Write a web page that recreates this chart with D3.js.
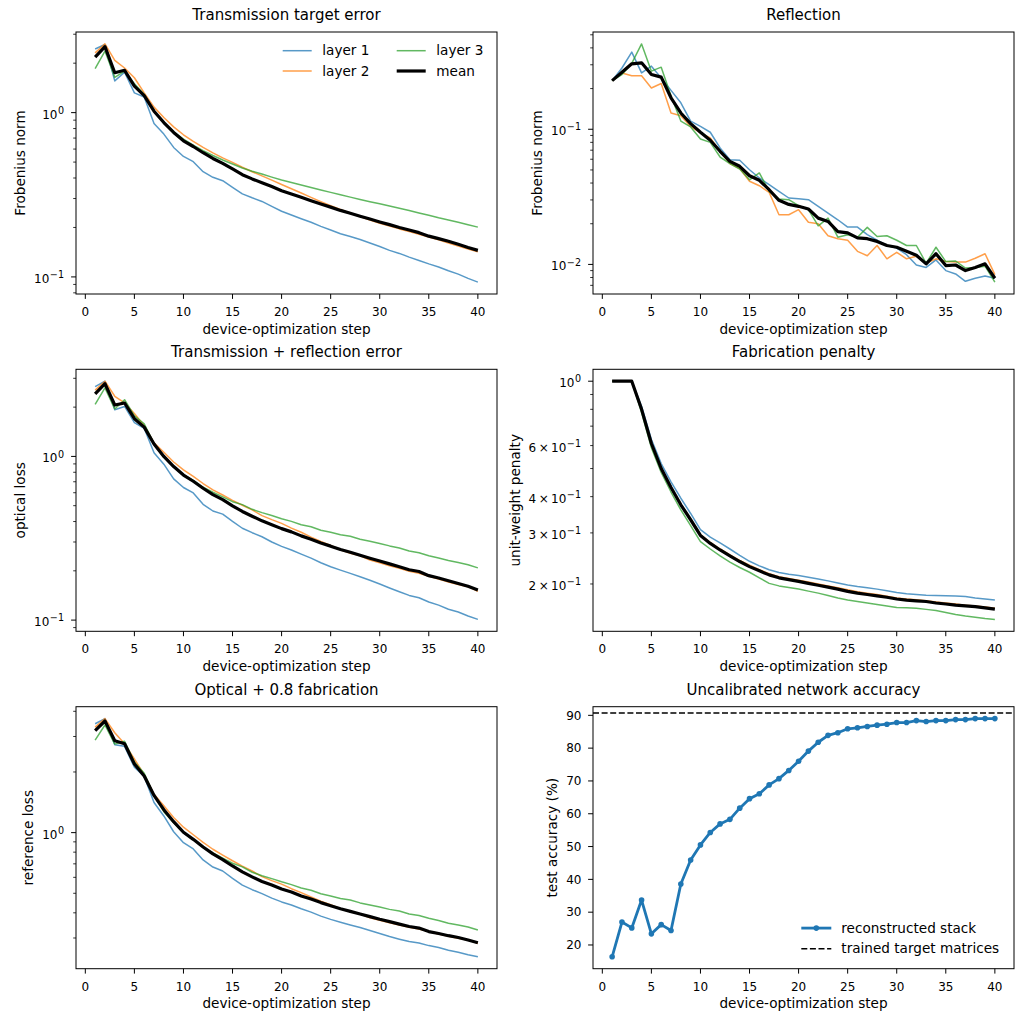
<!DOCTYPE html>
<html>
<head>
<meta charset="utf-8">
<script src="https://cdn.jsdelivr.net/npm/d3@7"></script>
<style>
  body { margin: 0; background: #fff; }
  svg { font-family: 'DejaVu Sans', sans-serif; }
</style>
</head>
<body>
<svg id="fig" width="1024" height="1024"></svg>
<script>
// device-optimization steps
const steps = d3.range(1, 41)

// transmission target error (Frobenius norm)
const transLayer1 = [2.44, 2.60, 1.56, 1.76, 1.32, 1.245, 0.858, 0.740, 0.614, 0.541, 0.503, 0.437, 0.404, 0.385, 0.351, 0.320, 0.303, 0.288, 0.269, 0.251, 0.238, 0.226, 0.215, 0.203, 0.193, 0.183, 0.176, 0.169, 0.161, 0.153, 0.145, 0.139, 0.132, 0.126, 0.120, 0.115, 0.109, 0.104, 0.098, 0.093]
const transLayer2 = [2.31, 2.62, 2.08, 1.87, 1.63, 1.32, 1.08, 0.933, 0.819, 0.733, 0.668, 0.614, 0.569, 0.530, 0.498, 0.465, 0.437, 0.412, 0.388, 0.365, 0.344, 0.324, 0.305, 0.287, 0.271, 0.257, 0.244, 0.233, 0.222, 0.212, 0.204, 0.196, 0.189, 0.182, 0.175, 0.168, 0.161, 0.154, 0.148, 0.142]
const transLayer3 = [1.85, 2.37, 1.64, 1.79, 1.50, 1.29, 1.02, 0.87, 0.764, 0.690, 0.634, 0.586, 0.548, 0.515, 0.487, 0.460, 0.440, 0.423, 0.405, 0.389, 0.376, 0.363, 0.350, 0.338, 0.327, 0.316, 0.306, 0.296, 0.287, 0.279, 0.270, 0.262, 0.254, 0.245, 0.237, 0.229, 0.222, 0.215, 0.208, 0.201]
const transMean = [2.18, 2.52, 1.75, 1.81, 1.45, 1.27, 1.02, 0.87, 0.757, 0.674, 0.622, 0.570, 0.526, 0.491, 0.454, 0.419, 0.395, 0.374, 0.355, 0.335, 0.320, 0.305, 0.291, 0.278, 0.266, 0.254, 0.244, 0.234, 0.225, 0.216, 0.208, 0.200, 0.193, 0.186, 0.177, 0.171, 0.165, 0.158, 0.151, 0.145]

// reflection (Frobenius norm)
const reflLayer1 = [0.229, 0.284, 0.372, 0.261, 0.293, 0.240, 0.194, 0.157, 0.115, 0.105, 0.095, 0.0727, 0.0595, 0.0589, 0.0502, 0.0436, 0.0389, 0.0347, 0.031, 0.0306, 0.0301, 0.0269, 0.0240, 0.0214, 0.0189, 0.0189, 0.0166, 0.0151, 0.0138, 0.0132, 0.0118, 0.0099, 0.0095, 0.0108, 0.0090, 0.0085, 0.0075, 0.0079, 0.0082, 0.0079]
const reflLayer2 = [0.229, 0.261, 0.249, 0.249, 0.202, 0.218, 0.132, 0.126, 0.105, 0.0939, 0.0862, 0.0687, 0.0558, 0.0512, 0.0412, 0.0382, 0.0341, 0.0233, 0.0233, 0.0254, 0.0205, 0.0200, 0.0163, 0.0155, 0.0151, 0.0125, 0.0116, 0.0138, 0.0110, 0.0123, 0.0110, 0.0115, 0.0102, 0.0110, 0.0105, 0.0104, 0.0104, 0.0111, 0.0120, 0.0084]
const reflLayer3 = [0.229, 0.254, 0.307, 0.428, 0.269, 0.288, 0.176, 0.115, 0.104, 0.0847, 0.080, 0.0623, 0.0558, 0.0508, 0.0423, 0.0475, 0.0347, 0.0305, 0.0301, 0.0272, 0.0254, 0.0193, 0.0220, 0.0159, 0.0166, 0.0159, 0.0188, 0.0161, 0.0163, 0.0151, 0.0138, 0.0138, 0.0102, 0.0134, 0.0105, 0.0106, 0.0094, 0.0095, 0.0097, 0.0074]
const reflMean = [0.229, 0.264, 0.305, 0.310, 0.254, 0.243, 0.171, 0.132, 0.110, 0.095, 0.0829, 0.0687, 0.0579, 0.0532, 0.0453, 0.0419, 0.0357, 0.0298, 0.0278, 0.0269, 0.0257, 0.0220, 0.0208, 0.0175, 0.0171, 0.0157, 0.0155, 0.0148, 0.0138, 0.0134, 0.0125, 0.0117, 0.0101, 0.0120, 0.0098, 0.0099, 0.0090, 0.0095, 0.0101, 0.0079]

// transmission + reflection error (optical loss)
const opticalLayer1 = [2.67, 2.88, 1.93, 2.02, 1.61, 1.485, 1.052, 0.897, 0.729, 0.646, 0.598, 0.510, 0.464, 0.444, 0.401, 0.364, 0.342, 0.323, 0.300, 0.282, 0.268, 0.253, 0.239, 0.224, 0.212, 0.202, 0.193, 0.184, 0.175, 0.166, 0.157, 0.149, 0.1415, 0.137, 0.129, 0.1235, 0.1165, 0.112, 0.106, 0.101]
const opticalLayer2 = [2.54, 2.88, 2.33, 2.12, 1.83, 1.54, 1.21, 1.06, 0.924, 0.827, 0.754, 0.683, 0.625, 0.581, 0.539, 0.503, 0.471, 0.435, 0.411, 0.390, 0.3645, 0.344, 0.321, 0.302, 0.286, 0.269, 0.256, 0.247, 0.233, 0.224, 0.215, 0.207, 0.199, 0.193, 0.185, 0.178, 0.171, 0.165, 0.160, 0.150]
const opticalLayer3 = [2.08, 2.62, 1.95, 2.22, 1.77, 1.58, 1.196, 0.985, 0.868, 0.775, 0.714, 0.648, 0.604, 0.566, 0.529, 0.5075, 0.475, 0.4535, 0.435, 0.416, 0.401, 0.382, 0.372, 0.354, 0.3436, 0.332, 0.325, 0.312, 0.303, 0.294, 0.284, 0.276, 0.264, 0.258, 0.2475, 0.2396, 0.2314, 0.2245, 0.2177, 0.2084]
const opticalMean = [2.41, 2.78, 2.06, 2.12, 1.70, 1.51, 1.19, 1.00, 0.867, 0.769, 0.705, 0.639, 0.584, 0.544, 0.499, 0.461, 0.431, 0.404, 0.383, 0.362, 0.346, 0.327, 0.312, 0.2955, 0.283, 0.2697, 0.2595, 0.2488, 0.2388, 0.2294, 0.2205, 0.2117, 0.2031, 0.198, 0.1868, 0.1809, 0.174, 0.1675, 0.1611, 0.1529]

// fabrication penalty (unit weight)
const fabLayer1 = [1, 1, 1, 0.82, 0.63, 0.52, 0.45, 0.395, 0.35, 0.308, 0.290, 0.277, 0.264, 0.251, 0.2395, 0.231, 0.224, 0.219, 0.216, 0.2138, 0.211, 0.208, 0.205, 0.2015, 0.1984, 0.196, 0.194, 0.192, 0.1895, 0.187, 0.185, 0.184, 0.183, 0.1825, 0.1822, 0.1818, 0.181, 0.179, 0.1775, 0.176]
const fabLayer2 = [1, 1, 1, 0.80, 0.61, 0.50, 0.43, 0.376, 0.334, 0.296, 0.278, 0.264, 0.252, 0.241, 0.232, 0.224, 0.217, 0.212, 0.209, 0.206, 0.203, 0.200, 0.197, 0.194, 0.191, 0.188, 0.186, 0.184, 0.1815, 0.179, 0.1775, 0.1765, 0.175, 0.1735, 0.172, 0.1705, 0.169, 0.168, 0.1665, 0.165]
const fabLayer3 = [1, 1, 1, 0.78, 0.59, 0.485, 0.415, 0.36, 0.318, 0.280, 0.264, 0.250, 0.238, 0.228, 0.2195, 0.210, 0.201, 0.197, 0.1945, 0.1922, 0.189, 0.186, 0.1825, 0.179, 0.176, 0.174, 0.172, 0.170, 0.168, 0.166, 0.1655, 0.165, 0.1635, 0.162, 0.1595, 0.157, 0.155, 0.1535, 0.152, 0.151]
const fabMean = [1, 1, 1, 0.80, 0.61, 0.50, 0.43, 0.375, 0.333, 0.294, 0.276, 0.262, 0.250, 0.239, 0.2296, 0.222, 0.215, 0.210, 0.207, 0.2042, 0.201, 0.198, 0.195, 0.192, 0.1886, 0.186, 0.184, 0.182, 0.180, 0.1775, 0.176, 0.175, 0.174, 0.172, 0.1706, 0.169, 0.168, 0.167, 0.1655, 0.1638]

// optical + 0.8 fabrication (reference loss)
const refLayer1 = [3.47, 3.68, 2.73, 2.68, 2.11, 1.90, 1.41, 1.21, 1.01, 0.892, 0.830, 0.732, 0.675, 0.645, 0.593, 0.549, 0.521, 0.498, 0.473, 0.453, 0.437, 0.419, 0.403, 0.385, 0.371, 0.359, 0.348, 0.338, 0.327, 0.316, 0.305, 0.296, 0.288, 0.283, 0.275, 0.269, 0.261, 0.255, 0.248, 0.242]
const refLayer2 = [3.34, 3.68, 3.13, 2.76, 2.32, 1.94, 1.55, 1.36, 1.19, 1.064, 0.976, 0.894, 0.827, 0.774, 0.725, 0.682, 0.645, 0.605, 0.578, 0.555, 0.527, 0.504, 0.479, 0.457, 0.439, 0.419, 0.405, 0.394, 0.378, 0.367, 0.357, 0.348, 0.339, 0.332, 0.323, 0.314, 0.306, 0.299, 0.293, 0.282]
const refLayer3 = [2.88, 3.42, 2.75, 2.84, 2.24, 1.97, 1.53, 1.27, 1.12, 1.00, 0.925, 0.848, 0.794, 0.748, 0.705, 0.676, 0.636, 0.611, 0.591, 0.570, 0.552, 0.531, 0.518, 0.497, 0.485, 0.471, 0.463, 0.448, 0.437, 0.427, 0.416, 0.408, 0.395, 0.388, 0.376, 0.366, 0.355, 0.348, 0.340, 0.329]
const refMean = [3.21, 3.58, 2.86, 2.76, 2.19, 1.91, 1.53, 1.30, 1.133, 1.004, 0.926, 0.849, 0.784, 0.735, 0.683, 0.639, 0.603, 0.572, 0.549, 0.525, 0.507, 0.485, 0.468, 0.4495, 0.434, 0.4187, 0.4065, 0.3948, 0.3828, 0.3714, 0.3615, 0.3517, 0.3421, 0.336, 0.3228, 0.3159, 0.308, 0.3015, 0.2931, 0.2839]

// uncalibrated network accuracy (%)
const accuracy = [16.4, 27.0, 25.2, 33.7, 23.4, 26.2, 24.4, 38.6, 45.9, 50.5, 54.3, 56.9, 58.3, 61.7, 64.6, 66.1, 68.8, 70.7, 73.2, 76.0, 79.1, 81.8, 83.9, 84.7, 85.9, 86.2, 86.6, 87.0, 87.3, 87.8, 87.8, 88.4, 88.1, 88.4, 88.4, 88.7, 88.7, 89.0, 89.0, 89.0]
const targetAccuracy = 90.7

const layerNames = ['layer 1', 'layer 2', 'layer 3', 'mean']
const layerColors = ['#1f77b4', '#ff7f0e', '#2ca02c', '#000000']
const accuracyNames = ['reconstructed stack', 'trained target matrices']

const W = 421
const H = 262
const TICK_FS = 12
const LABEL_FS = 13.6
const TITLE_FS = 15
const LEGEND_FS = 13.6

const svg = d3.select('#fig')

const x = d3.scaleLinear()
  .domain([1 - 0.05 * 39, 40 + 0.05 * 39])
  .range([0, W])

const styleFor = i => i === 3
  ? { color: '#000', width: 3.2, opacity: 1 }
  : { color: layerColors[i], width: 1.5, opacity: 0.75 }

const logDomain = series => {
  const all = series.flat()
  const lo = Math.log10(d3.min(all))
  const hi = Math.log10(d3.max(all))
  const pad = (hi - lo) * 0.05
  return [Math.pow(10, lo - pad), Math.pow(10, hi + pad)]
}

const supLabel = (sel, mant, exp) => {
  const e = exp < 0 ? '\u2212' + Math.abs(exp) : String(exp)
  sel.append('tspan').text(mant === 1 ? '10' : `${mant}\u2009\u00d7\u200910`)
  sel.append('tspan').attr('dx', '0.05em').attr('dy', '-0.5em').attr('font-size', '0.8em').text(e)
}

const frameAndTitle = (g, p) => {
  g.append('rect')
    .attr('width', W).attr('height', H)
    .attr('fill', 'none').attr('stroke', '#000').attr('stroke-width', 1)

  g.append('text')
    .attr('x', W / 2).attr('y', -12)
    .attr('text-anchor', 'middle')
    .attr('font-size', TITLE_FS)
    .text(p.title)
}

const xAxis = g => {
  const ax = g.append('g').attr('transform', `translate(0, ${H})`)
  const ticks = x.ticks(10)
  ax.selectAll('line').data(ticks).enter().append('line')
    .attr('x1', d => x(d)).attr('x2', d => x(d))
    .attr('y1', 0).attr('y2', 4.9)
    .attr('stroke', '#000').attr('stroke-width', 1)
  ax.selectAll('text').data(ticks).enter().append('text')
    .attr('x', d => x(d)).attr('y', 22)
    .attr('text-anchor', 'middle')
    .attr('font-size', TICK_FS)
    .text(d => d)
  g.append('text')
    .attr('x', W / 2).attr('y', H + 39.5)
    .attr('text-anchor', 'middle')
    .attr('font-size', LABEL_FS)
    .text('device-optimization step')
}

const yLabel = (g, tickG, text) => {
  const bb = tickG.node().getBBox()
  const right = bb.x - 5.6
  g.append('text')
    .attr('transform', `translate(${right - 0.24 * LABEL_FS}, ${H / 2}) rotate(-90)`)
    .attr('text-anchor', 'middle')
    .attr('font-size', LABEL_FS)
    .text(text)
}

const logAxis = (g, y, labelText) => {
  const [lo, hi] = y.domain()
  const decades = Math.log10(hi / lo)
  const ticks = []
  for (let e = Math.floor(Math.log10(lo)); e <= Math.ceil(Math.log10(hi)); e++) {
    for (let m = 1; m <= 9; m++) {
      const v = m * Math.pow(10, e)
      if (v >= lo && v <= hi) ticks.push({ v, m, e })
    }
  }
  const showMinor = decades <= 1
  const ax = g.append('g')
  ax.selectAll('line').data(ticks).enter().append('line')
    .attr('x1', d => d.m === 1 ? -4.9 : -2.8).attr('x2', 0)
    .attr('y1', d => y(d.v)).attr('y2', d => y(d.v))
    .attr('stroke', '#000').attr('stroke-width', d => d.m === 1 ? 1 : 0.8)
  const labels = ticks.filter(d => d.m === 1 || (showMinor && [2, 3, 4, 6].includes(d.m)))
  const lg = ax.append('g')
  lg.selectAll('text').data(labels).enter().append('text')
    .attr('x', -12).attr('y', d => y(d.v)).attr('dy', '0.5em')
    .attr('text-anchor', 'end')
    .attr('font-size', TICK_FS)
    .each(function (d) { supLabel(d3.select(this), d.m, d.e) })
  yLabel(g, lg, labelText)
}

const lossPanels = [
  { title: 'Transmission target error', ylabel: 'Frobenius norm', left: 76, top: 32,
    series: [transLayer1, transLayer2, transLayer3, transMean], legend: true },
  { title: 'Reflection', ylabel: 'Frobenius norm', left: 593, top: 32,
    series: [reflLayer1, reflLayer2, reflLayer3, reflMean] },
  { title: 'Transmission + reflection error', ylabel: 'optical loss', left: 76, top: 369.3,
    series: [opticalLayer1, opticalLayer2, opticalLayer3, opticalMean] },
  { title: 'Fabrication penalty', ylabel: 'unit-weight penalty', left: 593, top: 369.3,
    series: [fabLayer1, fabLayer2, fabLayer3, fabMean] },
  { title: 'Optical + 0.8 fabrication', ylabel: 'reference loss', left: 76, top: 706.7,
    series: [refLayer1, refLayer2, refLayer3, refMean] }
]

lossPanels.forEach(p => {
  const g = svg.append('g').attr('transform', `translate(${p.left}, ${p.top})`)
  const y = d3.scaleLog().domain(logDomain(p.series)).range([H, 0])
  const line = d3.line().x((d, i) => x(steps[i])).y(d => y(d))

  g.selectAll('path.series').data(p.series).enter().append('path')
    .attr('class', 'series')
    .attr('d', d => line(d))
    .attr('fill', 'none')
    .attr('stroke', (d, i) => styleFor(i).color)
    .attr('stroke-width', (d, i) => styleFor(i).width)
    .attr('stroke-opacity', (d, i) => styleFor(i).opacity)
    .attr('stroke-linejoin', 'round')

  frameAndTitle(g, p)
  xAxis(g)
  logAxis(g, y, p.ylabel)

  if (p.legend) {
    const lg = g.append('g').attr('transform', `translate(${W - 214.3}, 18.7)`)
    const items = lg.selectAll('g').data(layerNames).enter().append('g')
      .attr('transform', (d, i) => `translate(${Math.floor(i / 2) * 114}, ${(i % 2) * 20.3})`)
    items.append('line')
      .attr('x1', 0).attr('x2', 29)
      .attr('stroke', (d, i) => styleFor(i).color)
      .attr('stroke-width', (d, i) => styleFor(i).width)
      .attr('stroke-opacity', (d, i) => styleFor(i).opacity)
    items.append('text')
      .attr('x', 39.6).attr('dy', '0.35em')
      .attr('font-size', LEGEND_FS)
      .text(d => d)
  }
})

// accuracy panel
{
  const p = { title: 'Uncalibrated network accuracy', left: 593, top: 706.7 }
  const g = svg.append('g').attr('transform', `translate(${p.left}, ${p.top})`)
  const [lo, hi] = d3.extent(accuracy)
  const y = d3.scaleLinear()
    .domain([lo - 0.05 * (hi - lo), hi + 0.05 * (hi - lo)])
    .range([H, 0])
  const line = d3.line().x((d, i) => x(steps[i])).y(d => y(d))

  g.append('line')
    .attr('x1', 0).attr('x2', W)
    .attr('y1', y(targetAccuracy)).attr('y2', y(targetAccuracy))
    .attr('stroke', '#000').attr('stroke-width', 1.6)
    .attr('stroke-dasharray', '6,2.6')

  g.append('path')
    .attr('d', line(accuracy))
    .attr('fill', 'none')
    .attr('stroke', '#1f77b4')
    .attr('stroke-width', 2.8)
    .attr('stroke-linejoin', 'round')

  g.selectAll('circle').data(accuracy).enter().append('circle')
    .attr('cx', (d, i) => x(steps[i]))
    .attr('cy', d => y(d))
    .attr('r', 2.8)
    .attr('fill', '#1f77b4')

  frameAndTitle(g, p)
  xAxis(g)

  const ticks = d3.range(20, 91, 10)
  const ax = g.append('g')
  ax.selectAll('line').data(ticks).enter().append('line')
    .attr('x1', -4.9).attr('x2', 0)
    .attr('y1', d => y(d)).attr('y2', d => y(d))
    .attr('stroke', '#000')
  const tl = ax.append('g')
  tl.selectAll('text').data(ticks).enter().append('text')
    .attr('x', -11.5).attr('y', d => y(d)).attr('dy', '0.36em')
    .attr('text-anchor', 'end')
    .attr('font-size', TICK_FS)
    .text(d => d)
  yLabel(g, tl, 'test accuracy (%)')

  const lg = g.append('g').attr('transform', `translate(208.3, ${H - 40.6})`)
  const items = lg.selectAll('g').data(accuracyNames).enter().append('g')
    .attr('transform', (d, i) => `translate(0, ${i * 20.6})`)
  items.filter((d, i) => i === 0).append('line')
    .attr('x1', 0).attr('x2', 30)
    .attr('stroke', '#1f77b4').attr('stroke-width', 2.8)
  items.filter((d, i) => i === 0).append('circle')
    .attr('cx', 15).attr('r', 2.8).attr('fill', '#1f77b4')
  items.filter((d, i) => i === 1).append('line')
    .attr('x1', 0).attr('x2', 30)
    .attr('stroke', '#000').attr('stroke-width', 1.6)
    .attr('stroke-dasharray', '6,2.6')
  items.append('text')
    .attr('x', 40).attr('dy', '0.35em')
    .attr('font-size', LEGEND_FS)
    .text(d => d)
}
</script>
</body>
</html>
